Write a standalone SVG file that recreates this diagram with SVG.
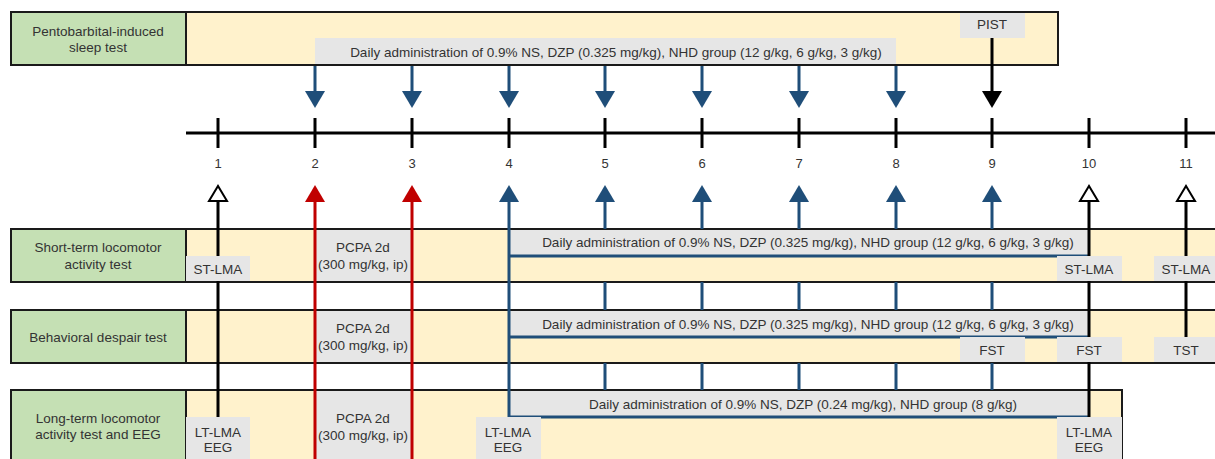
<svg xmlns="http://www.w3.org/2000/svg" width="1215" height="459" viewBox="0 0 1215 459">
<style>
text{font-family:"Liberation Sans",Arial,sans-serif;font-size:13.5px;fill:#333;text-anchor:middle;dominant-baseline:central}
.green{fill:#c5e0b4;stroke:#1a1a1a;stroke-width:2}
.yellow{fill:#fff2cc;stroke:#1a1a1a;stroke-width:2}
.gray{fill:#e6e6e6}
.blue{stroke:#1f4e79;stroke-width:3;fill:none}
.red{stroke:#c00000;stroke-width:3;fill:none}
.blk{stroke:#000;stroke-width:3;fill:none}
.num{font-size:13px}
</style>
<!-- rows -->
<g id="row-pist">
<rect class="yellow" x="186" y="12" width="872" height="53"/>
<rect class="green" x="11" y="12" width="175" height="53"/>
<text x="98" y="31">Pentobarbital-induced</text>
<text x="98" y="47">sleep test</text>
</g>
<g id="row-stlma">
<rect class="yellow" x="186" y="229" width="1040" height="53"/>
<rect class="green" x="11" y="229" width="175" height="53"/>
<text x="98" y="247">Short-term locomotor</text>
<text x="98" y="264">activity test</text>
</g>
<g id="row-bdt">
<rect class="yellow" x="186" y="310" width="1040" height="53"/>
<rect class="green" x="11" y="310" width="175" height="53"/>
<text x="98" y="337">Behavioral despair test</text>
</g>
<g id="row-ltlma">
<rect class="yellow" x="186" y="390" width="936" height="80"/>
<rect class="green" x="11" y="390" width="175" height="80"/>
<text x="98" y="418">Long-term locomotor</text>
<text x="98" y="434">activity test and EEG</text>
</g>
<!-- daily / PCPA boxes -->
<g id="daily-1"><rect class="gray" x="315" y="38" width="581" height="26"/><text x="616" y="52">Daily administration of 0.9% NS, DZP (0.325 mg/kg), NHD group (12 g/kg, 6 g/kg, 3 g/kg)</text></g>
<g id="pist"><rect class="gray" x="960" y="13" width="65" height="25"/><text x="992" y="24">PIST</text></g>
<g id="daily-2"><rect class="gray" x="509" y="230" width="580" height="26"/><text x="808" y="242">Daily administration of 0.9% NS, DZP (0.325 mg/kg), NHD group (12 g/kg, 6 g/kg, 3 g/kg)</text></g>
<g id="daily-3"><rect class="gray" x="509" y="311" width="580" height="26"/><text x="808" y="324">Daily administration of 0.9% NS, DZP (0.325 mg/kg), NHD group (12 g/kg, 6 g/kg, 3 g/kg)</text></g>
<g id="daily-4"><rect class="gray" x="509" y="391" width="580" height="26"/><text x="803" y="404">Daily administration of 0.9% NS, DZP (0.24 mg/kg), NHD group (8 g/kg)</text></g>
<g id="pcpa-2"><rect class="gray" x="315" y="230" width="97" height="51"/><text x="363" y="247">PCPA 2d</text><text x="363" y="264">(300 mg/kg, ip)</text></g>
<g id="pcpa-3"><rect class="gray" x="315" y="311" width="97" height="51"/><text x="363" y="328">PCPA 2d</text><text x="363" y="345">(300 mg/kg, ip)</text></g>
<g id="pcpa-4"><rect class="gray" x="315" y="391" width="97" height="70"/><text x="363" y="418">PCPA 2d</text><text x="363" y="435">(300 mg/kg, ip)</text></g>
<!-- timeline -->
<g id="timeline">
<path class="blk" d="M186 133H1215M218 118V148M315 118V148M412 118V148M509 118V148M605 118V148M702 118V148M799 118V148M896 118V148M992 118V148M1089 118V148M1186 118V148"/>
<text class="num" x="218" y="163">1</text><text class="num" x="315" y="163">2</text><text class="num" x="412" y="163">3</text><text class="num" x="509" y="163">4</text><text class="num" x="605" y="163">5</text><text class="num" x="702" y="163">6</text><text class="num" x="799" y="163">7</text><text class="num" x="896" y="163">8</text><text class="num" x="992" y="163">9</text><text class="num" x="1089" y="163">10</text><text class="num" x="1186" y="163">11</text>
</g>
<!-- connectors -->
<g id="connectors">
<path class="blue" d="M315 66V94M412 66V94M509 66V94M605 66V94M702 66V94M799 66V94M896 66V94"/>
<g fill="#1f4e79">
<path d="M305 91H325L315 108Z"/><path d="M402 91H422L412 108Z"/><path d="M499 91H519L509 108Z"/><path d="M595 91H615L605 108Z"/><path d="M692 91H712L702 108Z"/><path d="M789 91H809L799 108Z"/><path d="M886 91H906L896 108Z"/>
</g>
<path class="blk" d="M992 38V94"/>
<path d="M982 91H1002L992 108Z" fill="#000"/>
<path class="blue" d="M509 200V417H1089M509 256H1089M509 337H1089"/>
<path class="blue" d="M605 200V229M702 200V229M799 200V229M896 200V229M992 200V229M605 282V310M702 282V310M799 282V310M896 282V310M992 282V310M605 363V390M702 363V390M799 363V390M896 363V390M992 363V390"/>
<g fill="#1f4e79">
<path d="M499 202H519L509 185Z"/><path d="M595 202H615L605 185Z"/><path d="M692 202H712L702 185Z"/><path d="M789 202H809L799 185Z"/><path d="M886 202H906L896 185Z"/><path d="M982 202H1002L992 185Z"/>
</g>
<path class="red" d="M315 200V459M412 200V459"/>
<g fill="#c00000"><path d="M305 202H325L315 185Z"/><path d="M402 202H422L412 185Z"/></g>
<path class="blk" d="M218 202V417M1089 202V417M1186 202V337"/>
<g fill="#fff" stroke="#000" stroke-width="2">
<path d="M209 201H227L218 186Z"/><path d="M1080 201H1098L1089 186Z"/><path d="M1177 201H1195L1186 186Z"/>
</g>
</g>
<!-- small label boxes -->
<g id="st-lma-1"><rect class="gray" x="186" y="256" width="64" height="25"/><text x="218" y="269">ST-LMA</text></g>
<g id="st-lma-10"><rect class="gray" x="1057" y="256" width="65" height="25"/><text x="1089" y="269">ST-LMA</text></g>
<g id="st-lma-11"><rect class="gray" x="1154" y="256" width="61" height="25"/><text x="1186" y="269">ST-LMA</text></g>
<g id="fst-9"><rect class="gray" x="960" y="337" width="65" height="25"/><text x="992" y="350">FST</text></g>
<g id="fst-10"><rect class="gray" x="1057" y="337" width="65" height="25"/><text x="1089" y="350">FST</text></g>
<g id="tst-11"><rect class="gray" x="1154" y="337" width="61" height="25"/><text x="1186" y="350">TST</text></g>
<g id="lt-lma-1"><rect class="gray" x="186" y="417" width="64" height="42"/><text x="218" y="432">LT-LMA</text><text x="218" y="447">EEG</text></g>
<g id="lt-lma-4"><rect class="gray" x="476" y="417" width="65" height="42"/><text x="508" y="432">LT-LMA</text><text x="508" y="447">EEG</text></g>
<g id="lt-lma-10"><rect class="gray" x="1057" y="417" width="65" height="42"/><text x="1089" y="432">LT-LMA</text><text x="1089" y="447">EEG</text></g>
</svg>
